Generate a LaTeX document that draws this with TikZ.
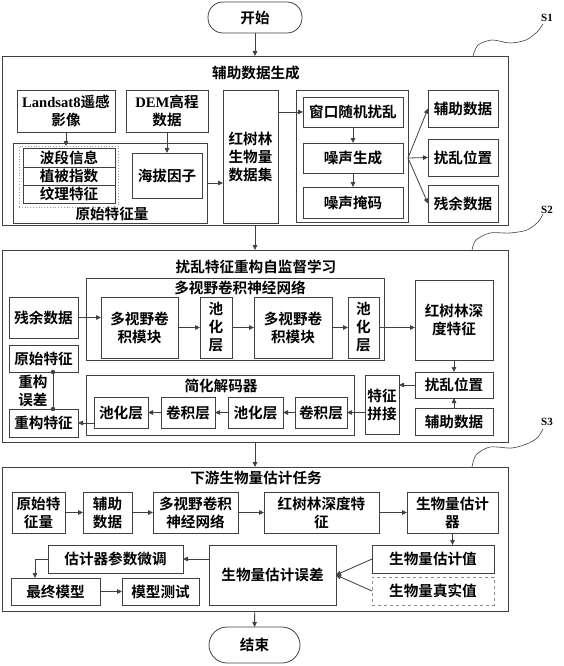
\documentclass[tikz,border=0pt]{standalone}
\usepackage{fontspec}
\setmainfont{Noto Sans CJK SC}[BoldFont={* Bold}]
\newfontfamily\lat{Liberation Serif}
\usetikzlibrary{arrows.meta,calc}
\definecolor{lc}{HTML}{404040}
\newcommand\fs{\fontsize{14.6}{18}\selectfont\bfseries}
\newcommand\Bx[7][]{\node[bx,#1,minimum width={#5pt-#3pt},minimum height={#6pt-#4pt}] (#2) at ({(#3+#5)/2},{(#4+#6)/2}) {#7};}
\tikzset{
  bx/.style={draw=lc,line width=0.8pt,inner sep=1pt,outer sep=0pt,align=center,font=\fs,fill=white},
  grp/.style={bx,fill=none},
  lbl/.style={inner sep=0pt,font=\fs,align=center},
  arr/.style={draw=lc,line width=0.8pt,-{Triangle[length=5pt,width=4.5pt]}},
  ln/.style={draw=lc,line width=0.8pt},
  term/.style={bx,rounded corners=15pt},
  squig/.style={draw=lc,line width=0.6pt},
  slbl/.style={inner sep=0pt,font=\lat\bfseries\fontsize{11}{12}\selectfont},
}
\begin{document}
\begin{tikzpicture}[x=1pt,y=-1pt]
\useasboundingbox (0,0) rectangle (563,666);
% ---------- start ----------
\Bx[term]{start}{208}{2}{302}{33}{开始}
% ---------- S1 ----------
\Bx[grp]{s1}{2}{56}{508}{225}{}
\node[lbl] (s1t) at (256,73) {辅助数据生成};
\Bx{landsat}{17}{90}{115}{132}{{\lat\bfseries Landsat8}遥感\\影像}
\Bx{dem}{126}{90}{208}{132}{{\lat\bfseries DEM}高程\\数据}
\Bx[grp]{orig}{13}{143}{207}{223}{}
\node[lbl] (origl) at (112,214) {原始特征量};
\Bx[grp,draw=black!40,dotted,line width=0.7pt]{dot}{19}{146}{118}{207}{}
\Bx{bands}{23}{148}{115}{167}{波段信息}
\Bx{veg}{23}{167}{115}{185}{植被指数}
\Bx{tex}{23}{185}{115}{203}{纹理特征}
\Bx{alt}{132}{153}{202}{198}{海拔因子}
\Bx{dataset}{223}{90}{278}{223}{红树林\\生物量\\数据集}
\Bx[grp]{noise}{296}{90}{408}{222}{}
\Bx{win}{303}{97}{403}{127}{窗口随机扰乱}
\Bx{gen}{303}{143}{403}{173}{噪声生成}
\Bx{mask}{303}{187}{403}{218}{噪声掩码}
\Bx{aux1}{428}{90}{498}{127}{辅助数据}
\Bx{pos1}{428}{139}{498}{176}{扰乱位置}
\Bx{res1}{428}{185}{498}{222}{残余数据}
\draw[arr] (start) -- (s1);
\draw[arr] (landsat.south) -- (landsat.south |- dot.north);
\draw[arr] (dem) -- (alt);
\draw[arr] (orig.east) -- (orig.east -| dataset.west);
\draw[arr] (dataset.east |- win.west) -- (win.west);
\draw[arr] (win) -- (gen);
\draw[arr] (gen) -- (mask);
\coordinate (fan) at (noise.east |- gen.east);
\draw[arr] (fan) -- (aux1.west);
\draw[arr] (fan) -- (pos1.west);
\draw[arr] (fan) -- (res1.west);
\node[slbl] (S1) at (547,18) {S1};
\draw[squig] plot[smooth] coordinates {(473,56) (478,45) (492,40) (510,43) (526,40) (537,32) (543,24)};
% ---------- S2 ----------
\Bx[grp]{s2}{2}{250}{508}{442}{}
\node[lbl] (s2t) at (256,267) {扰乱特征重构自监督学习};
\Bx[grp]{cnn}{86}{278}{384}{360}{}
\node[lbl] (cnnl) at (240,288) {多视野卷积神经网络};
\Bx{res2}{9}{297}{78}{338}{残余数据}
\Bx{mv1}{101}{297}{178}{358}{多视野卷\\积模块}
\Bx{pool1}{200}{297}{232}{358}{池\\化\\层}
\Bx{mv2}{254}{297}{332}{358}{多视野卷\\积模块}
\Bx{pool2}{348}{297}{379}{358}{池\\化\\层}
\Bx{deep}{415}{280}{493}{360}{红树林深\\度特征}
\Bx{pos2}{415}{372}{493}{398}{扰乱位置}
\Bx{aux2}{415}{408}{493}{435}{辅助数据}
\Bx[grp]{dec}{86}{375}{354}{435}{}
\node[lbl] (decl) at (221,386) {简化解码器};
\Bx{concat}{365}{375}{399}{434}{特征\\拼接}
\Bx{conva}{295}{397}{347}{428}{卷积层}
\Bx{poola}{228}{397}{283}{428}{池化层}
\Bx{convb}{161}{397}{215}{428}{卷积层}
\Bx{poolb}{94}{397}{148}{428}{池化层}
\Bx{origf}{9}{345}{78}{372}{原始特征}
\Bx{recon}{9}{409}{78}{437}{重构特征}
\draw[arr] (s1) -- (s2);
\draw[arr] (res2.east) -- (res2.east -| mv1.west);
\draw[arr] (mv1) -- (pool1);
\draw[arr] (pool1) -- (mv2);
\draw[arr] (mv2) -- (pool2);
\draw[arr] (pool2.east) -- (pool2.east -| deep.west);
\draw[arr] (deep) -- (pos2);
\draw[arr] (aux2) -- (pos2);
\draw[arr] (pos2.west) -- (pos2.west -| concat.east);
\draw[arr] (conva.east -| concat.west) -- (conva.east);
\draw[arr] (conva) -- (poola);
\draw[arr] (poola) -- (convb);
\draw[arr] (convb) -- (poolb);
\draw[arr] (recon.east -| poolb.west) -- (recon.east);
\coordinate (ex) at (53,0);
\draw[ln] (origf.south -| ex) -- (recon.north -| ex);
\fill[lc] (origf.south -| ex) circle (2.2pt) (recon.north -| ex) circle (2.2pt);
\node[lbl] (errl) at (33,391) {重构\\误差};
\node[slbl] (S2) at (547,210) {S2};
\draw[squig] plot[smooth] coordinates {(472,250) (476,240) (490,233) (510,233) (527,230) (538,222) (543,214)};
% ---------- S3 ----------
\Bx[grp]{s3}{2}{467}{508}{611}{}
\node[lbl] (s3t) at (256,478) {下游生物量估计任务};
\Bx{r1}{12}{492}{65}{533}{原始特\\征量}
\Bx{r2}{83}{492}{132}{533}{辅助\\数据}
\Bx{r3}{153}{492}{238}{533}{多视野卷积\\神经网络}
\Bx{r4}{264}{492}{379}{533}{红树林深度特\\征}
\Bx{r5}{407}{492}{498}{533}{生物量估计\\器}
\Bx{est}{372}{545}{494}{573}{生物量估计值}
\Bx[draw=black!45,dashed]{truth}{372}{577}{494}{605}{生物量真实值}
\Bx{err}{209}{545}{336}{605}{生物量估计误差}
\Bx{tune}{48}{545}{183}{573}{估计器参数微调}
\Bx{final}{11}{578}{100}{605}{最终模型}
\Bx{test}{122}{578}{199}{605}{模型测试}
\draw[arr] (s2) -- (s3);
\draw[arr] (r1) -- (r2);
\draw[arr] (r2) -- (r3);
\draw[arr] (r3) -- (r4);
\draw[arr] (r4) -- (r5);
\draw[arr] (r5.south) -- (r5.south |- est.north);
\draw[arr] (est.west) -- (err.east);
\draw[arr] (truth.west) -- (err.east);
\draw[arr] (err.west |- tune.east) -- (tune.east);
\coordinate (fx) at (35,0);
\draw[arr] (tune.west) -| (fx |- final.north);
\draw[arr] (final) -- (test);
\node[slbl] (S3) at (547,422) {S3};
\draw[squig] plot[smooth] coordinates {(472,467) (476,455) (490,447) (512,448) (529,443) (538,437) (543,429)};
% ---------- end ----------
\Bx[term,rounded corners=18pt]{endn}{209}{627}{300}{663}{结束}
\draw[arr] (s3) -- (endn);
\end{tikzpicture}
\end{document}
